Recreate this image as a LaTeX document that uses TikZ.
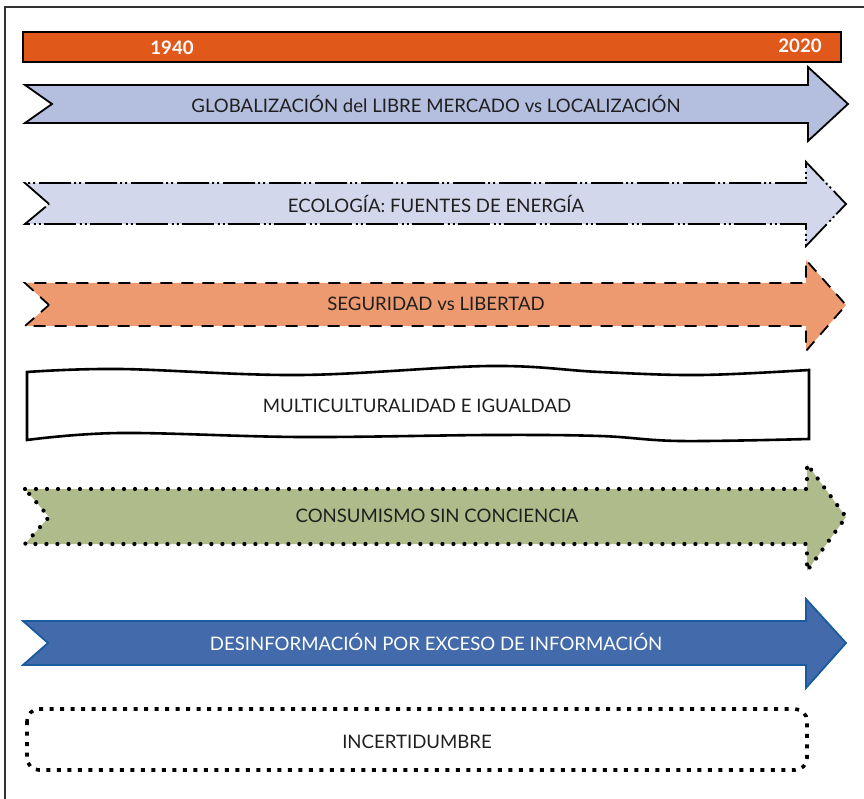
\documentclass[tikz,border=0pt]{standalone}
\usepackage{fontspec}
\setmainfont{Lato}
\begin{document}
\begin{tikzpicture}[x=1pt,y=-1pt,
  lbl/.style={font=\fontsize{18.6}{22}\selectfont, text=black!88, inner sep=0pt},
  yearlbl/.style={font=\bfseries\fontsize{18.6}{22}\selectfont, text=white, inner sep=0pt},
  band/.style={line width=1.8pt, line join=miter},
  dashdotdot/.style={dash pattern=on 32pt off 3pt on 2pt off 3pt on 2pt off 4pt},
  shortdash/.style={dash pattern=on 12pt off 9pt},
  rounddots/.style={line width=4.2pt, line cap=round, dash pattern=on 0pt off 11pt},
  squaredots/.style={line width=3.6pt, dash pattern=on 4pt off 6.5pt}]
\definecolor{barorange}{HTML}{E0581A}
\definecolor{bandA}{HTML}{B4BEDE}
\definecolor{bandB}{HTML}{D3D7EB}
\definecolor{bandC}{HTML}{EE9A70}
\definecolor{bandD}{HTML}{AFBB8A}
\definecolor{bandE}{HTML}{436AAB}
\definecolor{bandEline}{HTML}{1A5A9E}
\useasboundingbox (0,0) rectangle (864,799);

% outer frame (left and top edges)
\draw[line width=2pt, black!80] (5,810) -- (5,7) -- (875,7);

% time bar
\draw[fill=barorange, line width=1.5pt] (23,32) rectangle (841,62);
\node[yearlbl] (y1940) at (172,48) {1940};
\node[yearlbl] (y2020) at (800,46) {2020};

% globalization band
\draw[band, fill=bandA] (25,85) -- (808,85) -- (808,67) -- (848,104) -- (808,141)
  -- (808,123) -- (25,123) -- (52,104) -- cycle;
\node[lbl] (glob) at (436,104) {GLOBALIZACIÓN del LIBRE MERCADO vs LOCALIZACIÓN};

% ecology band
\draw[band, dashdotdot, fill=bandB] (49,204) -- (25,183) -- (806,183) -- (806,162) -- (846,204)
  -- (806,246) -- (806,224) -- (25,224) -- cycle;
\node[lbl] (eco) at (436,204) {ECOLOGÍA: FUENTES DE ENERGÍA};

% security band
\draw[band, shortdash, fill=bandC] (49,305) -- (25,283) -- (806,283) -- (806,260) -- (846,305)
  -- (806,351) -- (806,326) -- (25,326) -- cycle;
\node[lbl] (seg) at (436,304) {SEGURIDAD vs LIBERTAD};

% multiculturality banner with wavy edges
\draw[line width=2.6pt, fill=white]
  plot[smooth, tension=0.6] coordinates {(27,372) (120,369) (300,375) (490,366) (600,372) (700,375) (809,370)}
  -- (809,439)
  -- plot[smooth, tension=0.6] coordinates {(809,439) (680,441) (600,436) (490,435) (300,437) (120,433) (27,440)}
  -- cycle;
\node[lbl] (multi) at (417,406) {MULTICULTURALIDAD E IGUALDAD};

% consumerism band
\draw[band, rounddots, fill=bandD] (25,489) -- (807,489) -- (807,464) -- (846,517)
  -- (807,571) -- (807,544) -- (25,544) -- (49,517) -- cycle;
\node[lbl] (cons) at (437,516) {CONSUMISMO SIN CONCIENCIA};

% disinformation band
\draw[band, draw=bandEline, fill=bandE] (23,621) -- (806,621) -- (806,599) -- (846,643)
  -- (806,688) -- (806,665) -- (23,665) -- (48,643) -- cycle;
\node[lbl, text=white] (desinf) at (436,642) {DESINFORMACIÓN POR EXCESO DE INFORMACIÓN};

% uncertainty box
\draw[squaredots, rounded corners=12pt] (27,709) rectangle (807,770);
\node[lbl] (incert) at (417,742) {INCERTIDUMBRE};
\end{tikzpicture}
\end{document}
